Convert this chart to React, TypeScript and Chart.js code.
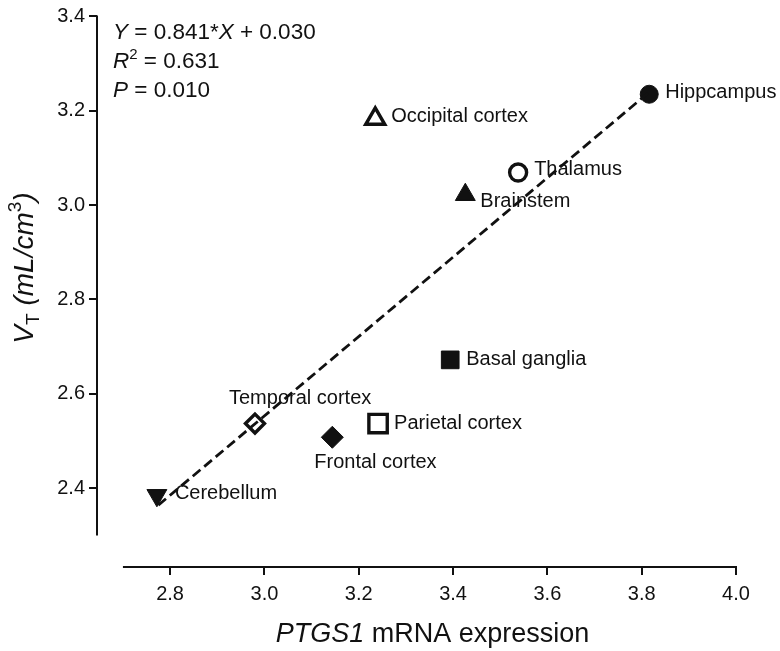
import React, { useEffect, useRef } from "react";
import { Chart, registerables } from "chart.js";
Chart.register(...registerables);

// ---- data ----
const REGIONS = [
  "Hippcampus",
  "Occipital cortex",
  "Thalamus",
  "Brainstem",
  "Basal ganglia",
  "Parietal cortex",
  "Temporal cortex",
  "Frontal cortex",
  "Cerebellum",
];
const PTGS1_EXPR = [3.816, 3.235, 3.538, 3.426, 3.394, 3.241, 2.98, 3.144, 2.772];
const VT_VALUES = [3.235, 3.183, 3.069, 3.022, 2.672, 2.537, 2.537, 2.508, 2.385];
const FIT_X = [2.775, 3.82];
const FIT_Y = [2.364, 3.243];
const X_TICKS = [2.8, 3.0, 3.2, 3.4, 3.6, 3.8, 4.0];
const Y_TICKS = [2.4, 2.6, 2.8, 3.0, 3.2, 3.4];
const X_LIMITS = [2.645, 4.0];
const Y_LIMITS = [2.233, 3.4];
const X_AXIS_SPAN = [2.7, 4.0];
const Y_AXIS_SPAN = [2.3, 3.4];
const EQ_SLOPE = "0.841";
const EQ_INTERCEPT = "0.030";
const EQ_R2 = "0.631";
const EQ_P = "0.010";

// ---- styles ----
const INK = "#111111";
const FAM = '"Liberation Sans", Arial, Helvetica, sans-serif';
const MARKER_STYLE = ["circle", "triangle", "circle", "triangle", "rect", "rect", "rectRot", "rectRot", "triangle"];
const MARKER_FILLED = [true, false, false, true, true, false, false, true, true];
const MARKER_RADIUS = [9, 11, 8.5, 11.5, 12.5, 13, 9.5, 11, 11.5];
const MARKER_ROTATION = [0, 0, 0, 0, 0, 0, 0, 0, 180];
const LABEL_OFFSET: [number, number][] = [
  [16, -2], [16, -2], [16, -3], [15, 7], [16, 0], [16, 0], [-26, -25], [-18, 25], [18, -2],
];

type Part = { t: string; italic?: boolean; size: number; dy?: number };

function drawRich(ctx: CanvasRenderingContext2D, parts: Part[], x: number, y: number, align: "left" | "center") {
  let total = 0;
  const widths = parts.map((p) => {
    ctx.font = `${p.italic ? "italic " : ""}${p.size}px ${FAM}`;
    const w = ctx.measureText(p.t).width;
    total += w;
    return w;
  });
  let cx = align === "center" ? x - total / 2 : x;
  ctx.textAlign = "left";
  ctx.textBaseline = "alphabetic";
  parts.forEach((p, i) => {
    ctx.font = `${p.italic ? "italic " : ""}${p.size}px ${FAM}`;
    ctx.fillText(p.t, cx, y + (p.dy || 0));
    cx += widths[i];
  });
}

const decorPlugin = {
  id: "decor",
  afterDatasetsDraw(chart: any) {
    const ctx: CanvasRenderingContext2D = chart.ctx;
    const xs = chart.scales.x;
    const ys = chart.scales.y;
    ctx.save();
    ctx.fillStyle = INK;
    // point labels
    ctx.font = `20px ${FAM}`;
    ctx.textAlign = "left";
    ctx.textBaseline = "middle";
    REGIONS.forEach((name, i) => {
      const px = xs.getPixelForValue(PTGS1_EXPR[i]);
      const py = ys.getPixelForValue(VT_VALUES[i]);
      ctx.fillText(name, px + LABEL_OFFSET[i][0], py + LABEL_OFFSET[i][1]);
    });
    ctx.restore();
  },
  afterDraw(chart: any) {
    const ctx: CanvasRenderingContext2D = chart.ctx;
    const xs = chart.scales.x;
    const ys = chart.scales.y;
    const area = chart.chartArea;
    ctx.save();
    // axis lines with gap at origin
    ctx.strokeStyle = INK;
    ctx.lineWidth = 2;
    ctx.beginPath();
    ctx.moveTo(area.left, ys.getPixelForValue(Y_AXIS_SPAN[1]) - 1);
    ctx.lineTo(area.left, ys.getPixelForValue(Y_AXIS_SPAN[0]));
    ctx.moveTo(xs.getPixelForValue(X_AXIS_SPAN[0]), area.bottom);
    ctx.lineTo(xs.getPixelForValue(X_AXIS_SPAN[1]) + 1, area.bottom);
    ctx.stroke();

    ctx.fillStyle = INK;
    // equation block
    const ex = area.left + 16;
    const ey = area.top + 23;
    drawRich(ctx, [
      { t: "Y", italic: true, size: 22.5 },
      { t: ` = ${EQ_SLOPE}*`, size: 22.5 },
      { t: "X", italic: true, size: 22.5 },
      { t: ` + ${EQ_INTERCEPT}`, size: 22.5 },
    ], ex, ey, "left");
    drawRich(ctx, [
      { t: "R", italic: true, size: 22.5 },
      { t: "2", size: 15, dy: -9 },
      { t: ` = ${EQ_R2}`, size: 22.5 },
    ], ex, ey + 29, "left");
    drawRich(ctx, [
      { t: "P", italic: true, size: 22.5 },
      { t: ` = ${EQ_P}`, size: 22.5 },
    ], ex, ey + 58, "left");

    // x title
    const xAxisStart = xs.getPixelForValue(X_AXIS_SPAN[0]);
    const xAxisEnd = xs.getPixelForValue(X_AXIS_SPAN[1]);
    drawRich(ctx, [
      { t: "PTGS1", italic: true, size: 27 },
      { t: " mRNA expression", size: 27 },
    ], (xAxisStart + xAxisEnd) / 2 + 3, 642, "center");

    // y title (rotated)
    ctx.save();
    ctx.translate(33, 268);
    ctx.rotate(-Math.PI / 2);
    drawRich(ctx, [
      { t: "V", italic: true, size: 28 },
      { t: "T", size: 19, dy: 6 },
      { t: " (mL/cm", italic: true, size: 28 },
      { t: "3", size: 19, dy: -12 },
      { t: ")", italic: true, size: 28 },
    ], 0, 0, "center");
    ctx.restore();
    ctx.restore();
  },
};

export default function App() {
  const ref = useRef<HTMLCanvasElement | null>(null);
  useEffect(() => {
    if (!ref.current) return;
    const chart = new Chart(ref.current, {
      type: "scatter",
      data: {
        datasets: [
          {
            type: "line",
            data: FIT_X.map((x, i) => ({ x, y: FIT_Y[i] })),
            borderColor: INK,
            borderWidth: 2.8,
            borderDash: [10, 5],
            pointRadius: 0,
            fill: false,
          } as any,
          {
            data: PTGS1_EXPR.map((x, i) => ({ x, y: VT_VALUES[i] })),
            pointStyle: MARKER_STYLE as any,
            pointRadius: MARKER_RADIUS,
            pointHoverRadius: MARKER_RADIUS,
            pointRotation: MARKER_ROTATION,
            backgroundColor: MARKER_FILLED.map((f) => (f ? INK : "#ffffff")),
            borderColor: INK,
            borderWidth: MARKER_FILLED.map((f) => (f ? 1 : 3.4)),
          },
        ],
      },
      options: {
        animation: false,
        responsive: false,
        events: [],
        layout: { padding: { top: 14, right: 44, left: 0, bottom: 0 } },
        plugins: { legend: { display: false }, tooltip: { enabled: false } },
        scales: {
          x: {
            type: "linear",
            min: X_LIMITS[0],
            max: X_LIMITS[1],
            afterFit: (s: any) => { s.height = 84; },
            afterBuildTicks: (s: any) => { s.ticks = X_TICKS.map((v) => ({ value: v })); },
            border: { display: false },
            grid: { drawOnChartArea: false, drawTicks: true, tickLength: 8, color: INK, lineWidth: 2 },
            ticks: {
              padding: 7,
              color: INK,
              font: { family: FAM, size: 20 },
              callback: (v: any) => Number(v).toFixed(1),
            },
          },
          y: {
            type: "linear",
            min: Y_LIMITS[0],
            max: Y_LIMITS[1],
            afterFit: (s: any) => { s.width = 97; },
            afterBuildTicks: (s: any) => { s.ticks = Y_TICKS.map((v) => ({ value: v })); },
            border: { display: false },
            grid: { drawOnChartArea: false, drawTicks: true, tickLength: 8, color: INK, lineWidth: 2 },
            ticks: {
              padding: 4,
              color: INK,
              font: { family: FAM, size: 20 },
              callback: (v: any) => Number(v).toFixed(1),
            },
          },
        },
      },
      plugins: [decorPlugin],
    });
    return () => chart.destroy();
  }, []);
  return (
    <div style={{ position: "fixed", left: 0, top: 0, width: 780, height: 651, background: "#fff" }}>
      <canvas ref={ref} width={780} height={651} style={{ width: 780, height: 651 }} />
    </div>
  );
}
